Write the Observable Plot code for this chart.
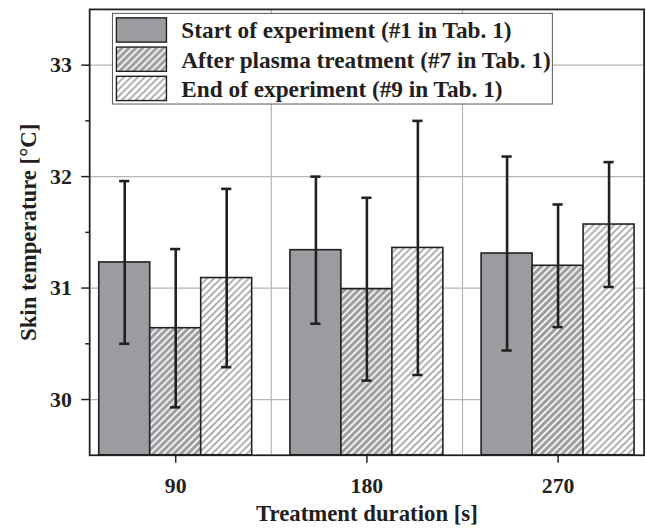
<!DOCTYPE html>
<html>
<head>
<meta charset="utf-8">
<script src="https://cdn.jsdelivr.net/npm/d3@7"></script>
<script src="https://cdn.jsdelivr.net/npm/@observablehq/plot@0.6"></script>
<style>
  html, body { margin: 0; padding: 0; background: #fff; overflow: hidden; }
  #chart { width: 646px; height: 529px; overflow: hidden; }
</style>
</head>
<body>
<div id="chart"></div>
<script>
// Treatment durations (s) on the x axis
const durations = [90, 180, 270];

// Series names shown in the legend
const seriesNames = [
  "Start of experiment (#1 in Tab. 1)",
  "After plasma treatment (#7 in Tab. 1)",
  "End of experiment (#9 in Tab. 1)"
];

// Mean skin temperature (°C) per duration
const startMean = [31.23, 31.34, 31.31];
const afterMean = [30.64, 30.99, 31.20];
const endMean   = [31.09, 31.36, 31.57];

// Standard deviation (°C) per duration
const startErr = [0.73, 0.66, 0.87];
const afterErr = [0.71, 0.82, 0.55];
const endErr   = [0.80, 1.14, 0.56];

// Axis ticks
const yTicks = [30, 31, 32, 33];
const yMinorTicks = [30.5, 31.5, 32.5];
const xGridLines = [135, 225];

// Bar geometry, in units of the x scale
const barWidth = 24;
const capHalf = 2.4;

const fills = ["url(#solidGray)", "url(#hatchOnGray)", "url(#hatchOnWhite)"];
const means = [startMean, afterMean, endMean];
const errs = [startErr, afterErr, endErr];

const rows = [];
means.forEach((m, s) => {
  durations.forEach((d, i) => {
    const x1 = d - 1.5 * barWidth + s * barWidth;
    rows.push({
      series: s,
      duration: d,
      x1, x2: x1 + barWidth, xc: x1 + barWidth / 2,
      mean: m[i],
      lo: m[i] - errs[s][i],
      hi: m[i] + errs[s][i]
    });
  });
});

const font = "'Liberation Serif', 'Times New Roman', serif";
const ink = "#231f20";

const plot = Plot.plot({
  width: 652,
  height: 529,
  marginLeft: 90,
  marginRight: 2.4,
  marginTop: 9,
  marginBottom: 70,
  style: { fontFamily: font, fontWeight: "bold", fontSize: "22px", color: ink, background: "#fff", overflow: "visible" },
  x: { domain: [49.5, 310.5] },
  y: { domain: [29.5, 33.5] },
  marks: [
    Plot.gridY(yTicks, { stroke: "#b4b4b4", strokeOpacity: 1, strokeWidth: 1.2 }),
    Plot.gridX(xGridLines, { stroke: "#b4b4b4", strokeOpacity: 1, strokeWidth: 1.2 }),
    Plot.rect(rows, {
      x1: "x1", x2: "x2", y1: 29.5, y2: "mean",
      fill: d => fills[d.series],
      stroke: ink, strokeWidth: 1.6
    }),
    Plot.ruleX(rows, { x: "xc", y1: "lo", y2: "hi", stroke: ink, strokeWidth: 2.6 }),
    Plot.ruleY(rows, { y: "hi", x1: d => d.xc - capHalf, x2: d => d.xc + capHalf, stroke: ink, strokeWidth: 2.6 }),
    Plot.ruleY(rows, { y: "lo", x1: d => d.xc - capHalf, x2: d => d.xc + capHalf, stroke: ink, strokeWidth: 2.6 }),
    Plot.frame({ stroke: ink, strokeWidth: 1.8 }),
    Plot.axisY(yTicks, {
      tickSize: 8, tickPadding: 10, fontSize: 22, fontWeight: "bold",
      tickFormat: d => String(d),
      stroke: ink, strokeWidth: 1.5, label: null
    }),
    Plot.axisY(yMinorTicks, {
      tickSize: 4, tickFormat: () => "", stroke: ink, strokeWidth: 1.5, label: null
    }),
    Plot.axisX(durations, {
      tickSize: 8, tickPadding: 14, fontSize: 22, fontWeight: "bold",
      tickFormat: d => String(d),
      stroke: ink, strokeWidth: 1.5, label: null
    }),
    Plot.text(["Skin temperature [°C]"], {
      frameAnchor: "left", textAnchor: "middle", lineAnchor: "middle",
      rotate: -90, dx: -62,
      fontSize: 23, fontWeight: "bold", fill: ink
    }),
    Plot.text(["Treatment duration [s]"], {
      frameAnchor: "bottom", textAnchor: "middle", lineAnchor: "middle", dy: 59,
      fontSize: 23, fontWeight: "bold", fill: ink
    })
  ]
});

document.getElementById("chart").appendChild(plot);

// Fill patterns: plain gray, white hatching on gray, gray hatching on white
const svg = d3.select(plot);
const defs = svg.insert("defs", ":first-child");
const gray = "#9b9c9f";
function hatch(id, bg, line, w) {
  const p = defs.append("pattern")
    .attr("id", id)
    .attr("patternUnits", "userSpaceOnUse")
    .attr("width", 7).attr("height", 7);
  p.append("rect").attr("width", 7).attr("height", 7).attr("fill", bg);
  if (line) {
    p.append("path")
      .attr("d", "M-1,1 l2,-2 M0,7 l7,-7 M6,8 l2,-2")
      .attr("stroke", line).attr("stroke-width", w);
  }
}
hatch("solidGray", gray, null, 0);
hatch("hatchOnGray", gray, "#ffffff", 1.7);
hatch("hatchOnWhite", "#ffffff", "#a3a3a5", 1.7);

// Legend box in the upper part of the plot area
const legend = svg.append("g")
  .attr("font-family", font)
  .attr("font-weight", "bold")
  .attr("text-anchor", "start");
legend.append("rect")
  .attr("x", 113.5).attr("y", 13.5).attr("width", 444).attr("height", 91.5)
  .attr("fill", "#fff").attr("stroke", "#555").attr("stroke-width", 1);
seriesNames.forEach((name, i) => {
  const y = 18 + i * 29.5;
  legend.append("rect")
    .attr("x", 117.5).attr("y", y).attr("width", 50.5).attr("height", 24.5)
    .attr("fill", fills[i]).attr("stroke", ink).attr("stroke-width", 1.4);
  legend.append("text")
    .attr("x", 183).attr("y", y + 12.5)
    .attr("dy", "0.35em")
    .attr("font-size", 23.5)
    .attr("fill", ink)
    .text(name);
});
</script>
</body>
</html>
